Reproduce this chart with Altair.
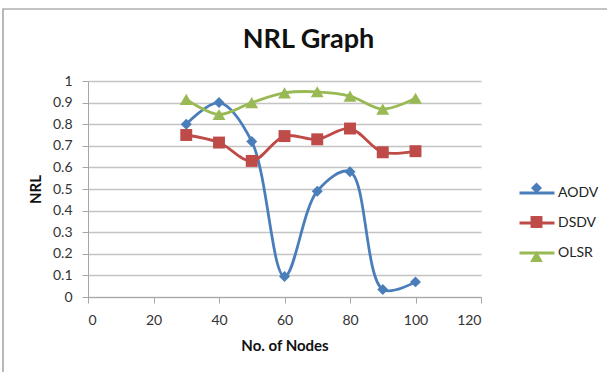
import altair as alt
import pandas as pd

# Normalized routing load per protocol vs. number of nodes
nodes = [30, 40, 50, 60, 70, 80, 90, 100]
aodv = [0.80, 0.90, 0.72, 0.095, 0.49, 0.58, 0.035, 0.07]
dsdv = [0.75, 0.715, 0.63, 0.745, 0.73, 0.78, 0.67, 0.675]
olsr = [0.915, 0.845, 0.90, 0.945, 0.95, 0.93, 0.87, 0.92]

series = ["AODV", "DSDV", "OLSR"]
colors = ["#4A7EBB", "#BE4B48", "#98B954"]
shapes = ["diamond", "square", "triangle-up"]
marker_sizes = [120, 165, 170]
x_ticks = [0, 20, 40, 60, 80, 100, 120]
y_ticks = [0, 0.1, 0.2, 0.3, 0.4, 0.5, 0.6, 0.7, 0.8, 0.9, 1]

rows = []
for name, vals in zip(series, [aodv, dsdv, olsr]):
    for n, v in zip(nodes, vals):
        rows.append({"series": name, "nodes": n, "nrl": v})
df = pd.DataFrame(rows)

FONT = "Lato"

x_enc = alt.X(
    "nodes:Q",
    title="No. of Nodes",
    scale=alt.Scale(domain=[0, 120], nice=False),
    axis=alt.Axis(values=x_ticks, grid=False, labelOverlap=False,
                  titleY=48, titleBaseline="middle", labelPadding=10),
)
y_enc = alt.Y(
    "nrl:Q",
    title="NRL",
    scale=alt.Scale(domain=[0, 1], nice=False),
    axis=alt.Axis(values=y_ticks, format="~g", grid=True, labelOverlap=False,
                  titleX=-53, titleY=108, titleAngle=270,
                  titleAlign="center", titleBaseline="middle", labelPadding=10),
)

# legend drawn in two overlapping parts: line strokes with labels, markers on top
lines = alt.Chart(df).mark_line(interpolate="catmull-rom", strokeWidth=2.8).encode(
    x=x_enc,
    y=y_enc,
    color=alt.Color(
        "series:N",
        scale=alt.Scale(domain=series, range=colors),
        legend=alt.Legend(
            title=None, orient="none", legendX=430, legendY=93,
            symbolType="stroke", symbolSize=1225, symbolStrokeWidth=3,
            labelFont=FONT, labelFontSize=14, labelColor="#222",
            labelOffset=2, rowPadding=4,
        ),
    ),
)

marker_legend = alt.Legend(
    title=None, orient="none", legendX=441, legendY=100,
    symbolSize=110, labelExpr="''", labelFontSize=14,
    labelFont=FONT, rowPadding=20,
)

points = alt.Chart(df).mark_point(filled=True, opacity=1).encode(
    x=x_enc,
    y=y_enc,
    color=alt.Color("series:N", scale=alt.Scale(domain=series, range=colors),
                    legend=marker_legend),
    shape=alt.Shape("series:N", scale=alt.Scale(domain=series, range=shapes),
                    legend=marker_legend),
    size=alt.Size("series:N", scale=alt.Scale(domain=series, range=marker_sizes),
                  legend=None),
)

# outer chart frame
frame = alt.Chart(pd.DataFrame({"f": [0]})).mark_rect(
    filled=False, stroke="#8a8a8a", strokeWidth=1.2
).encode(
    x=alt.value(-85), y=alt.value(-72), x2=alt.value(560), y2=alt.value(330)
)

chart = (
    alt.layer(frame, lines, points)
    .resolve_scale(color="independent", shape="independent", size="independent")
    .resolve_legend(color="independent", shape="independent")
    .properties(
        width=393,
        height=216,
        background="white",
        padding={"left": 88, "top": 81, "right": 126, "bottom": 75},
        autosize=alt.AutoSizeParams(type="none"),
        title=alt.Title("NRL Graph", font=FONT, fontSize=27, fontWeight="bold",
                        color="#111", anchor="middle", frame="group",
                        baseline="alphabetic", offset=0, dx=24, dy=67),
    )
    .configure_view(stroke=None)
    .configure_axis(
        labelFont=FONT, labelFontSize=14, labelColor="#333",
        titleFont=FONT, titleFontSize=15, titleFontWeight="bold", titleColor="#111",
        domainColor="#a6a6a6", tickColor="#a6a6a6", tickSize=6,
        gridColor="#c4c4c4", gridWidth=1.3,
    )
)

chart.save("out.html", embed_options={"renderer": "svg", "actions": False})
